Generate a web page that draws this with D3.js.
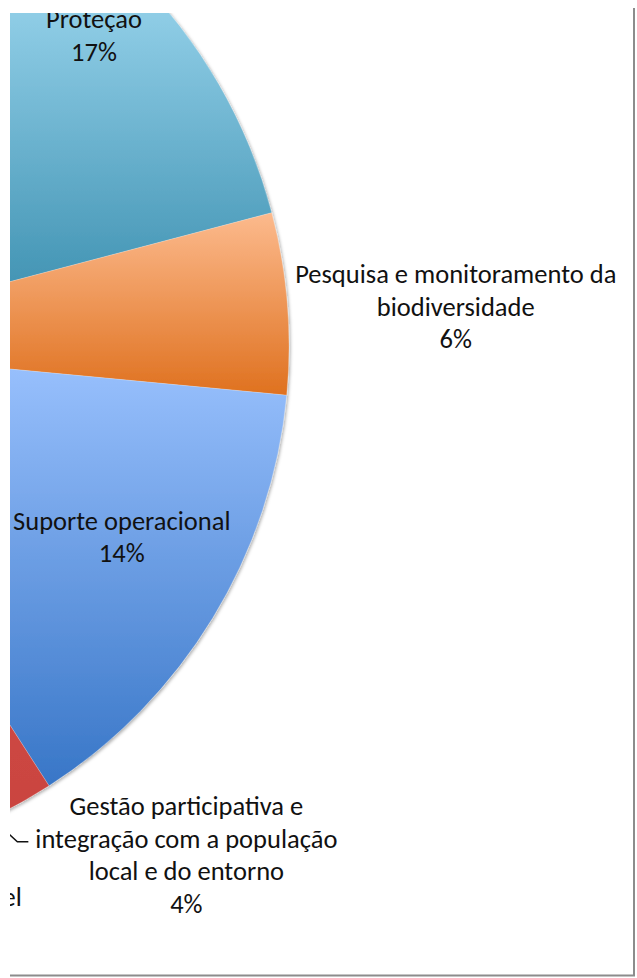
<!DOCTYPE html>
<html>
<head>
<meta charset="utf-8">
<script src="https://cdn.jsdelivr.net/npm/d3@7"></script>
<style>
    html, body { margin: 0; padding: 0; background: #fff; }
    .pie-label { font-family: Carlito, Calibri, Lato, "Open Sans", sans-serif; fill: #111; }
</style>
</head>
<body>
<div id="chart"></div>
<script>
// data (percent of budget); slices left of the crop are estimates
const categories = [
    "Planejamento",
    "Proteção",
    "Pesquisa e monitoramento da biodiversidade",
    "Suporte operacional",
    "Gestão participativa e integração com a população local e do entorno",
    "Manejo e uso sustentável",
    "Consolidação territorial",
    "Uso público"
];
const values = [3.9, 17, 5.6, 14.4, 4, 9, 30, 16.1];

// styling
const colorTop = ["#8fb3d9", "#8fcde6", "#fcba8d", "#9cc3ff", "#d9544f", "#b5cf7a", "#a48fc4", "#7fc4d8"];
const colorBottom = ["#4f81bd", "#3288a9", "#df711f", "#3876c7", "#c9433f", "#8aa84b", "#7059a0", "#3f9bb6"];

// label placement: angle shift (deg) from slice middle, radius as fraction of R, wrap width
const labelPlacement = {
    "Proteção": {da: 1.9, r: 0.864, wrap: 300},
    "Pesquisa e monitoramento da biodiversidade": {da: 1.4, r: 1.321, wrap: 340},
    "Suporte operacional": {da: -3.1, r: 0.772, wrap: 300},
    "Gestão participativa e integração com a população local e do entorno": {da: -14, r: 1.262, wrap: 322, leader: true},
    "Manejo e uso sustentável": {da: -9.7, r: 1.107, wrap: 400}
};

const width = 637, height = 978;
const clip = {x0: 10, y0: 13, x1: 633, y1: 974};
const cx = -234, cy = 346, R = 523;
const fontSize = 26.5, lineHeight = 32.5;

const data = categories.map((c, i) => ({name: c, value: values[i], i: i}));
const total = d3.sum(values);
const fmt = d3.format(".0%");

const svg = d3.select("#chart").append("svg")
    .attr("width", width)
    .attr("height", height);

const defs = svg.append("defs");
defs.append("clipPath").attr("id", "plotClip")
    .append("rect")
    .attr("x", clip.x0).attr("y", clip.y0)
    .attr("width", clip.x1 - clip.x0).attr("height", clip.y1 - clip.y0);

const shadow = defs.append("filter").attr("id", "pieShadow")
    .attr("x", "-10%").attr("y", "-10%").attr("width", "120%").attr("height", "120%");
shadow.append("feDropShadow")
    .attr("dx", 1.5).attr("dy", 1.5).attr("stdDeviation", 1.6)
    .attr("flood-color", "#000").attr("flood-opacity", 0.3);

const plot = svg.append("g").attr("clip-path", "url(#plotClip)");

const pie = d3.pie().sort(null).value(d => d.value);
const arcs = pie(data);
const arc = d3.arc().innerRadius(0).outerRadius(R);

const pieG = plot.append("g")
    .attr("transform", `translate(${cx},${cy})`)
    .attr("filter", "url(#pieShadow)");

const slices = pieG.selectAll(".slice")
    .data(arcs)
    .join("path")
    .attr("class", "slice")
    .attr("d", arc)
    .attr("stroke", "rgba(255,255,255,0.35)")
    .attr("stroke-width", 0.6);

// vertical gradient over the visible part of each slice
slices.each(function (d) {
    const bb = this.getBBox();
    const y1 = Math.max(bb.y + cy, clip.y0);
    const y2 = Math.min(bb.y + bb.height + cy, clip.y1);
    const g = defs.append("linearGradient")
        .attr("id", "grad" + d.data.i)
        .attr("gradientUnits", "userSpaceOnUse")
        .attr("x1", 0).attr("x2", 0)
        .attr("y1", y1 - cy).attr("y2", y2 - cy);
    g.append("stop").attr("offset", 0).attr("stop-color", colorTop[d.data.i]);
    g.append("stop").attr("offset", 1).attr("stop-color", colorBottom[d.data.i]);
    d3.select(this).attr("fill", `url(#grad${d.data.i})`);
});

// labels
const labelG = plot.append("g");

function polar(angle, r) {
    return [cx + r * Math.sin(angle), cy - r * Math.cos(angle)];
}

arcs.forEach(d => {
    const p = labelPlacement[d.data.name];
    if (!p) return;
    const mid = (d.startAngle + d.endAngle) / 2;
    const [lx, ly] = polar(mid + p.da * Math.PI / 180, p.r * R);

    const text = labelG.append("text")
        .attr("class", "pie-label")
        .attr("text-anchor", "middle")
        .style("font-size", fontSize + "px");

    // greedy word wrap
    const words = d.data.name.split(" ");
    const lines = [];
    let line = [];
    const probe = text.append("tspan");
    words.forEach(w => {
        const attempt = line.concat([w]).join(" ");
        probe.text(attempt);
        if (line.length && probe.node().getComputedTextLength() > p.wrap) {
            lines.push(line.join(" "));
            line = [w];
        } else {
            line.push(w);
        }
    });
    lines.push(line.join(" "));
    probe.remove();
    lines.push(fmt(d.data.value / total));

    const n = lines.length;
    let widest = 0;
    lines.forEach((l, k) => {
        const ts = text.append("tspan")
            .attr("x", lx)
            .attr("y", ly + (k - (n - 1) / 2) * lineHeight + 0.35 * fontSize)
            .text(l);
        widest = Math.max(widest, ts.node().getComputedTextLength());
    });

    if (p.leader) {
        const [sx, sy] = polar(mid, R);
        const ex = lx - widest / 2 - 7;
        const ey = ly - 13;
        labelG.append("polyline")
            .attr("points", [[sx, sy], [ex - 11, ey], [ex, ey]].map(q => q.join(",")).join(" "))
            .attr("fill", "none")
            .attr("stroke", "#111")
            .attr("stroke-width", 1.5);
    }
});

// chart frame edges
svg.append("line")
    .attr("x1", 634).attr("x2", 634).attr("y1", 8).attr("y2", 976)
    .attr("stroke", "#8c8c8c").attr("stroke-width", 2);
svg.append("line")
    .attr("x1", 10).attr("x2", 635).attr("y1", 975.5).attr("y2", 975.5)
    .attr("stroke", "#8c8c8c").attr("stroke-width", 2);
</script>
</body>
</html>
